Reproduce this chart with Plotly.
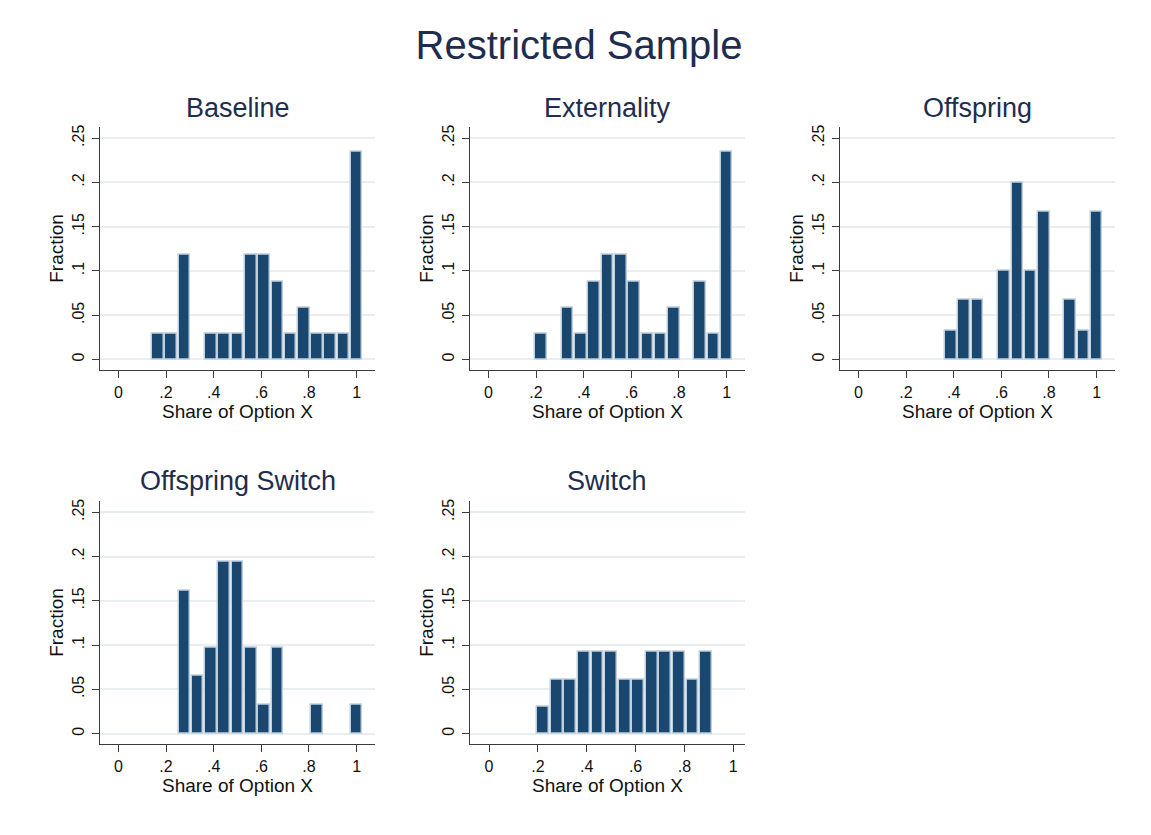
import plotly.graph_objects as go

# ---------------- data ----------------
panel_titles = ["Baseline", "Externality", "Offspring", "Offspring Switch", "Switch"]

baseline_x = [0.167, 0.222, 0.278, 0.389, 0.444, 0.500, 0.556, 0.611, 0.667,
              0.722, 0.778, 0.833, 0.889, 0.944, 1.000]
baseline_y = [0.029, 0.029, 0.118, 0.029, 0.029, 0.029, 0.118, 0.118, 0.088,
              0.029, 0.059, 0.029, 0.029, 0.029, 0.235]

externality_x = [0.222, 0.333, 0.389, 0.444, 0.500, 0.556, 0.611, 0.667,
                 0.722, 0.778, 0.889, 0.944, 1.000]
externality_y = [0.029, 0.059, 0.029, 0.088, 0.118, 0.118, 0.088, 0.029,
                 0.029, 0.059, 0.088, 0.029, 0.235]

offspring_x = [0.389, 0.444, 0.500, 0.611, 0.667, 0.722, 0.778, 0.889, 0.944, 1.000]
offspring_y = [0.033, 0.067, 0.067, 0.100, 0.200, 0.100, 0.167, 0.067, 0.033, 0.167]

offspring_switch_x = [0.278, 0.333, 0.389, 0.444, 0.500, 0.556, 0.611, 0.667, 0.833, 1.000]
offspring_switch_y = [0.161, 0.065, 0.097, 0.194, 0.194, 0.097, 0.032, 0.097, 0.032, 0.032]

switch_x = [0.222, 0.278, 0.333, 0.389, 0.444, 0.500, 0.556, 0.611, 0.667,
            0.722, 0.778, 0.833, 0.889]
switch_y = [0.030, 0.061, 0.061, 0.092, 0.092, 0.092, 0.061, 0.061, 0.092,
            0.092, 0.092, 0.061, 0.092]

bin_width = 0.0556

x_tickvals = [0, 0.2, 0.4, 0.6, 0.8, 1.0]
x_ticktext = ["0", ".2", ".4", ".6", ".8", "1"]
y_tickvals = [0, 0.05, 0.10, 0.15, 0.20, 0.25]
y_ticktext = ["0", ".05", ".1", ".15", ".2", ".25"]

main_title = "Restricted Sample"
x_title = "Share of Option X"
y_title = "Fraction"

series = [(baseline_x, baseline_y), (externality_x, externality_y),
          (offspring_x, offspring_y), (offspring_switch_x, offspring_switch_y),
          (switch_x, switch_y)]

# ---------------- layout geometry ----------------
W, H = 1151, 835
# plot-region pixel boxes: (left, right, top, bottom)
boxes = [(100, 375, 125, 369), (470, 745, 125, 369), (840, 1115, 125, 369),
         (100, 375, 500, 744), (470, 745, 500, 744)]
x_ranges = [[-0.077, 1.077]] * 4 + [[-0.078, 1.048]]
y_range = [-0.012, 0.263]
title_py = [106, 106, 106, 480, 480]

FONT = "Arial, Liberation Sans, Helvetica, sans-serif"
BAR_COLOR = "#1a476f"
BAR_LINE = "#bfcfdc"
GRID = "#e9eff1"
AXIS = "#3c3c3c"
TITLE_COLOR = "#1e2d4e"

fig = go.Figure()
layout = dict(
    width=W, height=H,
    margin=dict(l=0, r=0, t=0, b=0),
    paper_bgcolor="white", plot_bgcolor="white",
    showlegend=False,
    font=dict(family=FONT, color="#111111"),
    title=dict(text=main_title, x=579 / W, y=1 - 45 / H, xanchor="center",
               yanchor="middle", font=dict(size=40, color=TITLE_COLOR, family=FONT)),
    bargap=0,
)
annotations = []
for i, ((xs, ys), (l, r, t, b)) in enumerate(zip(series, boxes)):
    ax = "" if i == 0 else str(i + 1)
    fig.add_trace(go.Bar(
        x=xs, y=ys, width=bin_width * 0.87,
        marker=dict(color=BAR_COLOR, line=dict(color=BAR_LINE, width=1.5)),
        xaxis="x" + ax, yaxis="y" + ax,
        hovertemplate="%{x:.3f}: %{y:.3f}<extra></extra>",
    ))
    layout["xaxis" + ax] = dict(
        domain=[l / W, r / W], anchor="y" + ax, range=x_ranges[i],
        tickmode="array", tickvals=x_tickvals, ticktext=x_ticktext,
        ticks="outside", ticklen=7, tickwidth=1, tickcolor=AXIS,
        showline=True, linecolor=AXIS, linewidth=1, showgrid=False, zeroline=False,
        tickfont=dict(size=16, family=FONT, color="#111111"),
        ticklabelstandoff=1,
        title=dict(text=x_title, standoff=4, font=dict(size=19, family=FONT, color="#111111")),
        fixedrange=True,
    )
    layout["yaxis" + ax] = dict(
        domain=[1 - b / H, 1 - t / H], anchor="x" + ax, range=y_range,
        tickmode="array", tickvals=y_tickvals, ticktext=y_ticktext, tickangle=-90,
        ticks="outside", ticklen=7, tickwidth=1, tickcolor=AXIS,
        showline=True, linecolor=AXIS, linewidth=1,
        showgrid=True, gridcolor=GRID, gridwidth=1.5, zeroline=False,
        tickfont=dict(size=16, family=FONT, color="#111111"),
        ticklabelstandoff=2,
        title=dict(text=y_title, standoff=0, font=dict(size=19, family=FONT, color="#111111")),
        fixedrange=True,
    )
    annotations.append(dict(
        text=panel_titles[i], xref="paper", yref="paper",
        x=(l + r) / 2 / W, y=1 - title_py[i] / H, xanchor="center", yanchor="middle",
        showarrow=False, font=dict(size=27, family=FONT, color=TITLE_COLOR),
    ))
layout["annotations"] = annotations
fig.update_layout(**layout)
fig.write_html("out.html", config={"displayModeBar": False},
               post_script="document.body.style.margin='0px';")
